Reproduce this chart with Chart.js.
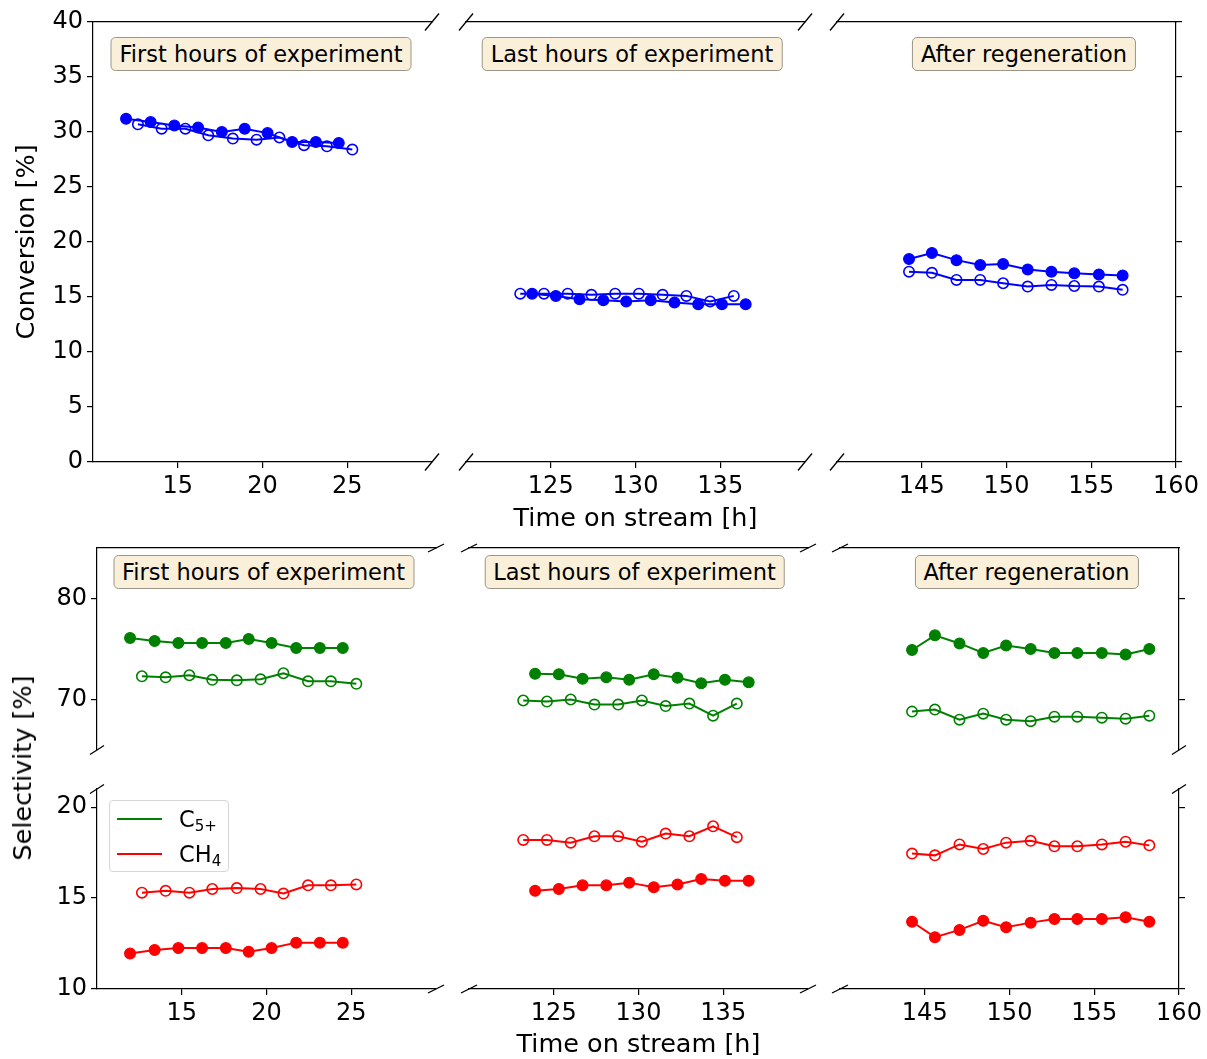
<!DOCTYPE html>
<html>
<head>
<meta charset="utf-8">
<title>Conversion and selectivity vs. time on stream</title>
<script src="https://cdn.jsdelivr.net/npm/chart.js@4.4.1/dist/chart.umd.min.js"></script>
<style>
  html, body { margin: 0; padding: 0; background: #fff; }
  #fig { position: relative; width: 1207px; height: 1059px; overflow: hidden; font-family: "DejaVu Sans", sans-serif; color: #000; }
  #fig canvas { position: absolute; }
  .note {
    position: absolute; transform: translate(-50%, -50%);
    background: #faefd9; border: 1.3px solid #9c9588; border-radius: 5px;
    font-size: 22.5px; line-height: 24px; padding: 4px 8px; white-space: nowrap;
  }
  .legend {
    position: absolute; left: 109px; top: 800px; width: 120px; height: 72px;
    background: rgba(255,255,255,0.8); border: 1px solid #d6d6d6; border-radius: 4px; box-sizing: border-box;
  }
  .legend .row { position: absolute; left: 0; height: 30px; width: 100%; }
  .legend .sw { position: absolute; left: 7px; width: 45px; height: 2px; top: 14px; }
  .legend .lab { position: absolute; left: 69px; top: 0; font-size: 22.5px; line-height: 30px; white-space: nowrap; }
  .legend sub { font-size: 15px; vertical-align: -4px; line-height: 0; }
  .ylab {
    position: absolute; left: 22px; top: 768px; transform: translate(-50%, -50%) rotate(-90deg);
    font-size: 25.5px; white-space: nowrap;
  }
</style>
</head>
<body>
<div id="fig"></div>
<script>
// ---- Time on stream [h] ----
const timeFirstFilled = [11.95, 13.4, 14.8, 16.2, 17.6, 18.95, 20.3, 21.75, 23.15, 24.5];
const timeFirstOpen   = [12.65, 14.05, 15.45, 16.8, 18.25, 19.65, 21.0, 22.45, 23.8, 25.3];
const timeLastFilled  = [123.9, 125.3, 126.7, 128.1, 129.45, 130.9, 132.3, 133.7, 135.1, 136.5];
const timeLastOpen    = [123.2, 124.6, 126.0, 127.4, 128.8, 130.2, 131.6, 133.0, 134.4, 135.8];
const timeRegenConv   = [144.25, 145.6, 147.05, 148.45, 149.8, 151.25, 152.65, 154.0, 155.45, 156.85];
const timeRegenSel    = [144.25, 145.6, 147.05, 148.45, 149.8, 151.25, 152.65, 154.0, 155.45, 156.85, 158.25];

// ---- Conversion [%] ----
const convFirstFilled = [31.2, 30.9, 30.6, 30.4, 30.0, 30.3, 29.9, 29.1, 29.1, 29.0];
const convFirstOpen   = [30.7, 30.3, 30.3, 29.7, 29.4, 29.3, 29.5, 28.8, 28.7, 28.4];
const convLastFilled  = [15.3, 15.1, 14.8, 14.7, 14.6, 14.7, 14.5, 14.35, 14.35, 14.35];
const convLastOpen    = [15.3, 15.3, 15.3, 15.2, 15.3, 15.3, 15.2, 15.1, 14.6, 15.1];
const convRegenFilled = [18.45, 19.0, 18.35, 17.9, 18.0, 17.5, 17.3, 17.15, 17.05, 16.95];
const convRegenOpen   = [17.3, 17.2, 16.55, 16.55, 16.25, 15.95, 16.1, 16.0, 15.95, 15.65];

// ---- Selectivity C5+ [%] ----
const c5FirstFilled = [76.1, 75.8, 75.6, 75.6, 75.6, 76.0, 75.6, 75.1, 75.1, 75.1];
const c5FirstOpen   = [72.3, 72.2, 72.4, 71.95, 71.9, 72.0, 72.6, 71.8, 71.8, 71.55];
const c5LastFilled  = [72.55, 72.5, 72.05, 72.2, 71.95, 72.5, 72.15, 71.6, 71.95, 71.7];
const c5LastOpen    = [69.9, 69.8, 70.0, 69.5, 69.5, 69.9, 69.35, 69.6, 68.4, 69.6];
const c5RegenFilled = [74.9, 76.35, 75.55, 74.6, 75.35, 75.0, 74.6, 74.6, 74.6, 74.45, 75.0];
const c5RegenOpen   = [68.8, 69.0, 68.0, 68.6, 68.0, 67.85, 68.3, 68.3, 68.2, 68.1, 68.4];

// ---- Selectivity CH4 [%] ----
const ch4FirstFilled = [11.95, 12.15, 12.25, 12.25, 12.25, 12.05, 12.25, 12.55, 12.55, 12.55];
const ch4FirstOpen   = [15.3, 15.4, 15.3, 15.5, 15.55, 15.5, 15.25, 15.7, 15.7, 15.75];
const ch4LastFilled  = [15.4, 15.5, 15.7, 15.7, 15.85, 15.6, 15.75, 16.05, 15.95, 15.95];
const ch4LastOpen    = [18.2, 18.2, 18.05, 18.4, 18.4, 18.1, 18.55, 18.4, 18.95, 18.35];
const ch4RegenFilled = [13.7, 12.85, 13.25, 13.75, 13.4, 13.65, 13.85, 13.85, 13.85, 13.95, 13.7];
const ch4RegenOpen   = [17.45, 17.35, 17.95, 17.7, 18.05, 18.15, 17.85, 17.85, 17.95, 18.1, 17.9];

// ---- Axis ranges and tick labels ----
const xRangeFirst = [10, 30],   xTicksFirst = [15, 20, 25];
const xRangeLast  = [120, 140], xTicksLast  = [125, 130, 135];
const xRangeRegen = [140, 160], xTicksRegen = [145, 150, 155, 160];
const convRange = [0, 40],  convTicks = [0, 5, 10, 15, 20, 25, 30, 35, 40];
const selHighRange = [65, 85], selHighTicks = [70, 80];
const selLowRange  = [10, 21], selLowTicks  = [10, 15, 20];

const panelTitles = ['First hours of experiment', 'Last hours of experiment', 'After regeneration'];
const seriesNames = ['C<sub>5+</sub>', 'CH<sub>4</sub>'];
const xTitle = 'Time on stream [h]';

const BLUE = '#0000ff', GREEN = '#008000', RED = '#ff0000';
const fig = document.getElementById('fig');

Chart.defaults.font.family = "'DejaVu Sans', sans-serif";
Chart.defaults.color = '#000';

const pts = (xs, ys) => xs.map((x, i) => ({ x, y: ys[i] }));

function series(xs, ys, color, filled) {
  return {
    data: pts(xs, ys),
    borderColor: color,
    backgroundColor: color,
    borderWidth: 2,
    pointRadius: filled ? 5.4 : 5.2,
    pointBorderWidth: filled ? 1.2 : 1.6,
    pointBackgroundColor: filled ? color : 'rgba(0,0,0,0)',
    pointBorderColor: color,
    tension: 0
  };
}

// diagonal "//" marks at the ends of the broken spines
const breakMarks = {
  id: 'breakMarks',
  afterDraw(chart, args, opts) {
    const a = chart.chartArea, ctx = chart.ctx;
    ctx.save();
    ctx.strokeStyle = '#000';
    ctx.lineWidth = 1.3;
    for (const m of (opts.marks || [])) {
      const x = m.c[1] === 'l' ? a.left : a.right;
      const y = m.c[0] === 't' ? a.top : a.bottom;
      ctx.beginPath();
      ctx.moveTo(x - m.dx / 2, y + m.dy / 2);
      ctx.lineTo(x + m.dx / 2, y - m.dy / 2);
      ctx.stroke();
    }
    ctx.restore();
  }
};

function addPanel(p) {
  const [x0, y0, x1, y1] = p.rect;
  const m = p.margin;
  const W = (x1 - x0) + m.l + m.r;
  const H = (y1 - y0) + m.t + m.b;
  const cv = document.createElement('canvas');
  cv.width = W; cv.height = H;
  cv.style.left = (x0 - m.l) + 'px';
  cv.style.top = (y0 - m.t) + 'px';
  cv.style.width = W + 'px';
  cv.style.height = H + 'px';
  fig.appendChild(cv);

  const yW = p.ySide ? p.yWidth : 0;
  const xH = p.xShow ? p.xHeight : 0;
  const padding = {
    left: m.l - (p.ySide === 'left' ? yW : 0),
    right: m.r - (p.ySide === 'right' ? yW : 0),
    top: m.t,
    bottom: m.b - xH
  };

  const scales = {
    x: {
      type: 'linear', position: 'bottom', min: p.xRange[0], max: p.xRange[1],
      display: !!p.xShow,
      afterBuildTicks: s => { s.ticks = p.xTicks.map(v => ({ value: v })); },
      afterFit: s => { s.height = xH; },
      ticks: { font: { size: 24 }, padding: 4, maxRotation: 0, autoSkip: false, callback: v => String(v), color: '#000' },
      grid: { display: true, drawOnChartArea: false, drawTicks: true, tickLength: 6, color: '#000', lineWidth: 1.2 },
      border: { display: true, color: '#000', width: 1.2 },
      title: p.xTitle ? { display: true, text: p.xTitle, font: { size: 25.5 }, padding: 0, color: '#000' } : { display: false }
    },
    y: {
      type: 'linear', position: p.ySide || 'left', min: p.yRange[0], max: p.yRange[1],
      display: !!p.ySide,
      afterBuildTicks: s => { s.ticks = p.yTicks.map(v => ({ value: v })); },
      afterFit: s => { s.width = yW; },
      ticks: { display: !!p.yLabels, font: { size: 24 }, padding: 4, autoSkip: false, callback: v => String(v), color: '#000' },
      grid: { display: true, drawOnChartArea: false, drawTicks: true, tickLength: 6, color: '#000', lineWidth: 1.2 },
      border: { display: true, color: '#000', width: 1.2 },
      title: p.yTitle ? { display: true, text: p.yTitle, font: { size: 25.5 }, padding: 0, color: '#000' } : { display: false }
    }
  };
  if (p.topSpine) {
    scales.xTop = {
      type: 'linear', position: 'top', min: p.xRange[0], max: p.xRange[1], display: true,
      afterFit: s => { s.height = 0; },
      ticks: { display: false },
      grid: { display: false, drawTicks: false },
      border: { display: true, color: '#000', width: 1.2 }
    };
  }

  return new Chart(cv, {
    type: 'line',
    data: { datasets: p.datasets },
    plugins: [breakMarks],
    options: {
      responsive: false,
      animation: false,
      devicePixelRatio: 1,
      events: [],
      layout: { padding },
      scales,
      plugins: {
        legend: { display: false },
        tooltip: { enabled: false },
        breakMarks: { marks: p.marks }
      }
    }
  });
}

// ---------- Top row: conversion ----------
const TOP = [22, 462];
const topMarks = { dx: 14, dy: 17 };
const mk = (list, d) => list.map(c => ({ c, dx: d.dx, dy: d.dy }));

addPanel({
  rect: [93, TOP[0], 432, TOP[1]], margin: { l: 93, r: 20, t: 20, b: 75 },
  xRange: xRangeFirst, xTicks: xTicksFirst, xShow: true, xHeight: 73,
  yRange: convRange, yTicks: convTicks, ySide: 'left', yWidth: 81, yLabels: true, yTitle: 'Conversion [%]',
  topSpine: true, marks: mk(['tr', 'br'], topMarks),
  datasets: [series(timeFirstFilled, convFirstFilled, BLUE, true), series(timeFirstOpen, convFirstOpen, BLUE, false)]
});
addPanel({
  rect: [466, TOP[0], 805, TOP[1]], margin: { l: 20, r: 20, t: 20, b: 75 },
  xRange: xRangeLast, xTicks: xTicksLast, xShow: true, xHeight: 73, xTitle: xTitle,
  yRange: convRange, yTicks: convTicks, ySide: null,
  topSpine: true, marks: mk(['tl', 'tr', 'bl', 'br'], topMarks),
  datasets: [series(timeLastFilled, convLastFilled, BLUE, true), series(timeLastOpen, convLastOpen, BLUE, false)]
});
addPanel({
  rect: [837, TOP[0], 1176, TOP[1]], margin: { l: 20, r: 30, t: 20, b: 75 },
  xRange: xRangeRegen, xTicks: xTicksRegen, xShow: true, xHeight: 73,
  yRange: convRange, yTicks: convTicks, ySide: 'right', yWidth: 10, yLabels: false,
  topSpine: true, marks: mk(['tl', 'bl'], topMarks),
  datasets: [series(timeRegenConv, convRegenFilled, BLUE, true), series(timeRegenConv, convRegenOpen, BLUE, false)]
});

// ---------- Bottom row: selectivity (broken y axis) ----------
const HIGH = [548, 750], LOW = [789, 989];
const xb = { dx: 16, dy: 8 }, yb = { dx: 14, dy: 9 };
const cols = [
  { rect: [97, 436], ml: 97, mr: 20, range: xRangeFirst, ticks: xTicksFirst, side: 'left', w: 70, labels: true,
    hiMarks: [...mk(['tr'], xb), ...mk(['bl'], yb)], loMarks: [...mk(['br'], xb), ...mk(['tl'], yb)],
    tf: timeFirstFilled, to: timeFirstOpen,
    c5: [c5FirstFilled, c5FirstOpen], ch4: [ch4FirstFilled, ch4FirstOpen] },
  { rect: [469, 808], ml: 20, mr: 20, range: xRangeLast, ticks: xTicksLast, side: null, w: 0, labels: false, title: xTitle,
    hiMarks: mk(['tl', 'tr'], xb), loMarks: mk(['bl', 'br'], xb),
    tf: timeLastFilled, to: timeLastOpen,
    c5: [c5LastFilled, c5LastOpen], ch4: [ch4LastFilled, ch4LastOpen] },
  { rect: [840, 1179], ml: 20, mr: 28, range: xRangeRegen, ticks: xTicksRegen, side: 'right', w: 10, labels: false,
    hiMarks: [...mk(['tl'], xb), ...mk(['br'], yb)], loMarks: [...mk(['bl'], xb), ...mk(['tr'], yb)],
    tf: timeRegenSel, to: timeRegenSel,
    c5: [c5RegenFilled, c5RegenOpen], ch4: [ch4RegenFilled, ch4RegenOpen] }
];

for (const c of cols) {
  addPanel({
    rect: [c.rect[0], HIGH[0], c.rect[1], HIGH[1]], margin: { l: c.ml, r: c.mr, t: 20, b: 20 },
    xRange: c.range, xTicks: c.ticks, xShow: false,
    yRange: selHighRange, yTicks: selHighTicks, ySide: c.side, yWidth: c.w, yLabels: c.labels,
    topSpine: true, marks: c.hiMarks,
    datasets: [series(c.tf, c.c5[0], GREEN, true), series(c.to, c.c5[1], GREEN, false)]
  });
  addPanel({
    rect: [c.rect[0], LOW[0], c.rect[1], LOW[1]], margin: { l: c.ml, r: c.mr, t: 20, b: 74 },
    xRange: c.range, xTicks: c.ticks, xShow: true, xHeight: 72, xTitle: c.title,
    yRange: selLowRange, yTicks: selLowTicks, ySide: c.side, yWidth: c.w, yLabels: c.labels,
    topSpine: false, marks: c.loMarks,
    datasets: [series(c.tf, c.ch4[0], RED, true), series(c.to, c.ch4[1], RED, false)]
  });
}

// ---------- Text boxes, shared y label and legend ----------
const notePos = [[261, 54], [632, 54], [1024, 54], [263.5, 571.5], [634.5, 571.5], [1026.5, 571.5]];
notePos.forEach((pos, i) => {
  const d = document.createElement('div');
  d.className = 'note';
  d.textContent = panelTitles[i % 3];
  d.style.left = pos[0] + 'px';
  d.style.top = pos[1] + 'px';
  fig.appendChild(d);
});

const yl = document.createElement('div');
yl.className = 'ylab';
yl.textContent = 'Selectivity [%]';
fig.appendChild(yl);

const lg = document.createElement('div');
lg.className = 'legend';
[GREEN, RED].forEach((col, i) => {
  const row = document.createElement('div');
  row.className = 'row';
  row.style.top = (3 + i * 35) + 'px';
  row.innerHTML = '<div class="sw" style="background:' + col + '"></div><div class="lab">' + seriesNames[i] + '</div>';
  lg.appendChild(row);
});
fig.appendChild(lg);
</script>
</body>
</html>
